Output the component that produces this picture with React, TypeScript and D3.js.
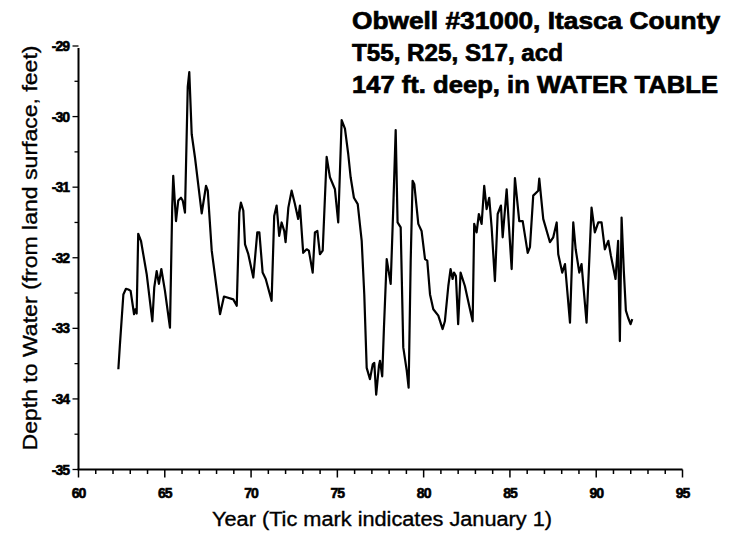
import React from "react";
import * as d3 from "d3";

const titleLines = [
  "Obwell #31000, Itasca County",
  "T55, R25, S17, acd",
  "147 ft. deep, in WATER TABLE",
];
const titleWidths = [368, 211, 366];

const xTickYears = [60, 65, 70, 75, 80, 85, 90, 95];
const yTickValues = [-29, -30, -31, -32, -33, -34, -35];

const years = [
  62.31, 62.4, 62.6, 62.75, 62.89, 63.02, 63.22, 63.29, 63.37, 63.46, 63.62, 63.95,
  64.28, 64.39, 64.53, 64.66, 64.8, 65.01, 65.3, 65.43, 65.49, 65.65, 65.78, 65.94,
  66.04, 66.17, 66.33, 66.42, 66.56, 66.75, 67.14, 67.39, 67.49, 67.72, 68.2, 68.43,
  68.97, 69.17, 69.32, 69.41, 69.55, 69.65, 69.84, 70.13, 70.36, 70.48, 70.67, 70.85,
  71.19, 71.34, 71.48, 71.63, 71.77, 71.92, 72.0, 72.16, 72.35, 72.54, 72.73, 72.83,
  73.02, 73.22, 73.35, 73.57, 73.7, 73.84, 73.99, 74.15, 74.38, 74.57, 74.86, 75.05,
  75.25, 75.44, 75.63, 75.77, 75.96, 76.18, 76.41, 76.56, 76.7, 76.89, 77.05, 77.14,
  77.25, 77.41, 77.47, 77.6, 77.7, 77.86, 78.09, 78.24, 78.38, 78.49, 78.67, 78.82,
  79.02, 79.13, 79.25, 79.36, 79.46, 79.69, 79.88, 80.08, 80.21, 80.37, 80.56, 80.85,
  81.1, 81.23, 81.43, 81.56, 81.68, 81.76, 81.87, 82.0, 82.14, 82.39, 82.64, 82.84,
  82.93, 83.07, 83.2, 83.36, 83.51, 83.65, 83.8, 83.94, 84.13, 84.29, 84.48, 84.58,
  84.81, 85.1, 85.29, 85.54, 85.74, 86.03, 86.16, 86.35, 86.64, 86.7, 86.93, 87.32,
  87.51, 87.71, 87.8, 88.03, 88.19, 88.48, 88.67, 88.81, 89.02, 89.15, 89.44, 89.73,
  89.92, 90.12, 90.31, 90.5, 90.7, 90.85, 91.12, 91.27, 91.37, 91.47, 91.6, 91.72,
  91.85, 91.99, 92.09,
];

const depths = [
  -33.58, -33.23, -32.52, -32.44, -32.45, -32.47, -32.8, -32.73, -32.79, -31.66, -31.76, -32.23,
  -32.9, -32.42, -32.19, -32.37, -32.16, -32.47, -32.99, -31.29, -30.84, -31.48, -31.19, -31.15,
  -31.19, -31.36, -29.58, -29.37, -30.25, -30.58, -31.37, -30.98, -31.05, -31.9, -32.8, -32.55,
  -32.59, -32.68, -31.36, -31.22, -31.33, -31.81, -31.95, -32.28, -31.64, -31.64, -32.21, -32.3,
  -32.61, -31.41, -31.26, -31.69, -31.5, -31.62, -31.78, -31.29, -31.05, -31.24, -31.45, -31.26,
  -31.93, -31.88, -31.9, -32.21, -31.64, -31.62, -31.95, -31.9, -30.57, -30.86, -31.03, -31.5,
  -30.05, -30.17, -30.53, -30.86, -31.15, -31.24, -31.76, -32.52, -33.56, -33.72, -33.51, -33.49,
  -33.94, -33.53, -33.46, -33.68, -32.99, -32.02, -32.37, -31.29, -30.19, -31.5, -31.57, -33.27,
  -33.6, -33.84, -32.04, -30.91, -30.96, -31.52, -31.62, -32.02, -32.04, -32.52, -32.73, -32.82,
  -33.01, -32.9, -32.4, -32.16, -32.3, -32.21, -32.26, -32.94, -32.21, -32.4, -32.68, -32.9,
  -31.52, -31.64, -31.38, -31.52, -30.98, -31.31, -31.15, -31.57, -32.33, -31.38, -31.26, -31.71,
  -31.03, -32.16, -30.87, -31.48, -31.48, -31.93, -31.85, -31.12, -31.05, -30.88, -31.45, -31.78,
  -31.71, -31.5, -31.95, -32.21, -32.09, -32.92, -31.5, -31.88, -32.21, -32.09, -32.92, -31.29,
  -31.64, -31.5, -31.5, -31.88, -31.76, -31.97, -32.3, -31.76, -33.18, -31.43, -32.19, -32.75,
  -32.85, -32.94, -32.87,
];

const W = 739;
const H = 534;

export default function App() {
  const x = d3.scaleLinear().domain([60, 95]).range([78.5, 682.5]);
  const y = d3.scaleLinear().domain([-35, -29]).range([469.5, 46]);

  const pts: [number, number][] = years.map((yr, i) => [yr, depths[i]]);
  const line = d3
    .line<[number, number]>()
    .x((d) => x(d[0]))
    .y((d) => y(d[1]));

  const minorX = d3.range(60, 96, 1);
  const minorY = d3.range(-35, -28.9, 0.5);

  const font = "'Liberation Sans', Arial, sans-serif";

  return (
    <svg
      width={W}
      height={H}
      style={{ position: "absolute", left: 0, top: 0, background: "#fff" }}
    >
      <rect x={0} y={0} width={W} height={H} fill="#fff" />
      {/* title */}
      {titleLines.map((t, i) => (
        <text
          key={t}
          x={352}
          y={29 + i * 32}
          fontFamily={font}
          fontWeight="bold"
          fontSize={24}
          textLength={titleWidths[i]}
          lengthAdjust="spacingAndGlyphs"
          fill="#000"
          stroke="#000"
          strokeWidth={0.7}
        >
          {t}
        </text>
      ))}

      {/* axes */}
      <line x1={x(60)} x2={x(60)} y1={y(-29) + 2} y2={y(-35)} stroke="#000" strokeWidth={2} />
      <line x1={x(60) - 1} x2={x(95)} y1={y(-35)} y2={y(-35)} stroke="#000" strokeWidth={2} />

      {minorX.map((v) => (
        <line
          key={"xt" + v}
          x1={x(v)}
          x2={x(v)}
          y1={y(-35)}
          y2={y(-35) + (v % 5 === 0 ? 8 : 4.5)}
          stroke="#000"
          strokeWidth={1.5}
        />
      ))}
      {minorY.map((v) => (
        <line
          key={"yt" + v}
          x1={x(60)}
          x2={x(60) - (Math.abs(v - Math.round(v)) < 0.01 ? 6 : 4)}
          y1={y(v)}
          y2={y(v)}
          stroke="#000"
          strokeWidth={1.3}
        />
      ))}

      {xTickYears.map((v) => (
        <text
          key={"xl" + v}
          x={x(v)}
          y={498}
          textAnchor="middle"
          fontFamily={font}
          fontWeight="bold"
          fontSize={14}
          letterSpacing={-1}
          fill="#000"
          stroke="#000"
          strokeWidth={0.6}
        >
          {v}
        </text>
      ))}
      {yTickValues.map((v) => (
        <text
          key={"yl" + v}
          x={69}
          y={y(v) + 5}
          textAnchor="end"
          fontFamily={font}
          fontWeight="bold"
          fontSize={14}
          letterSpacing={-1}
          fill="#000"
          stroke="#000"
          strokeWidth={0.6}
        >
          {v}
        </text>
      ))}

      {/* axis titles */}
      <text
        x={382}
        y={526}
        textAnchor="middle"
        fontFamily={font}
        fontSize={20}
        textLength={340}
        lengthAdjust="spacingAndGlyphs"
        fill="#000"
        stroke="#000"
        strokeWidth={0.35}
      >
        Year (Tic mark indicates January 1)
      </text>
      <text
        transform="translate(37,248) rotate(-90)"
        textAnchor="middle"
        fontFamily={font}
        fontSize={20}
        textLength={405}
        lengthAdjust="spacingAndGlyphs"
        fill="#000"
        stroke="#000"
        strokeWidth={0.35}
      >
        Depth to Water (from land surface, feet)
      </text>

      {/* data line */}
      <path
        d={line(pts) || ""}
        fill="none"
        stroke="#000"
        strokeWidth={2.2}
        strokeLinejoin="round"
      />
    </svg>
  );
}
